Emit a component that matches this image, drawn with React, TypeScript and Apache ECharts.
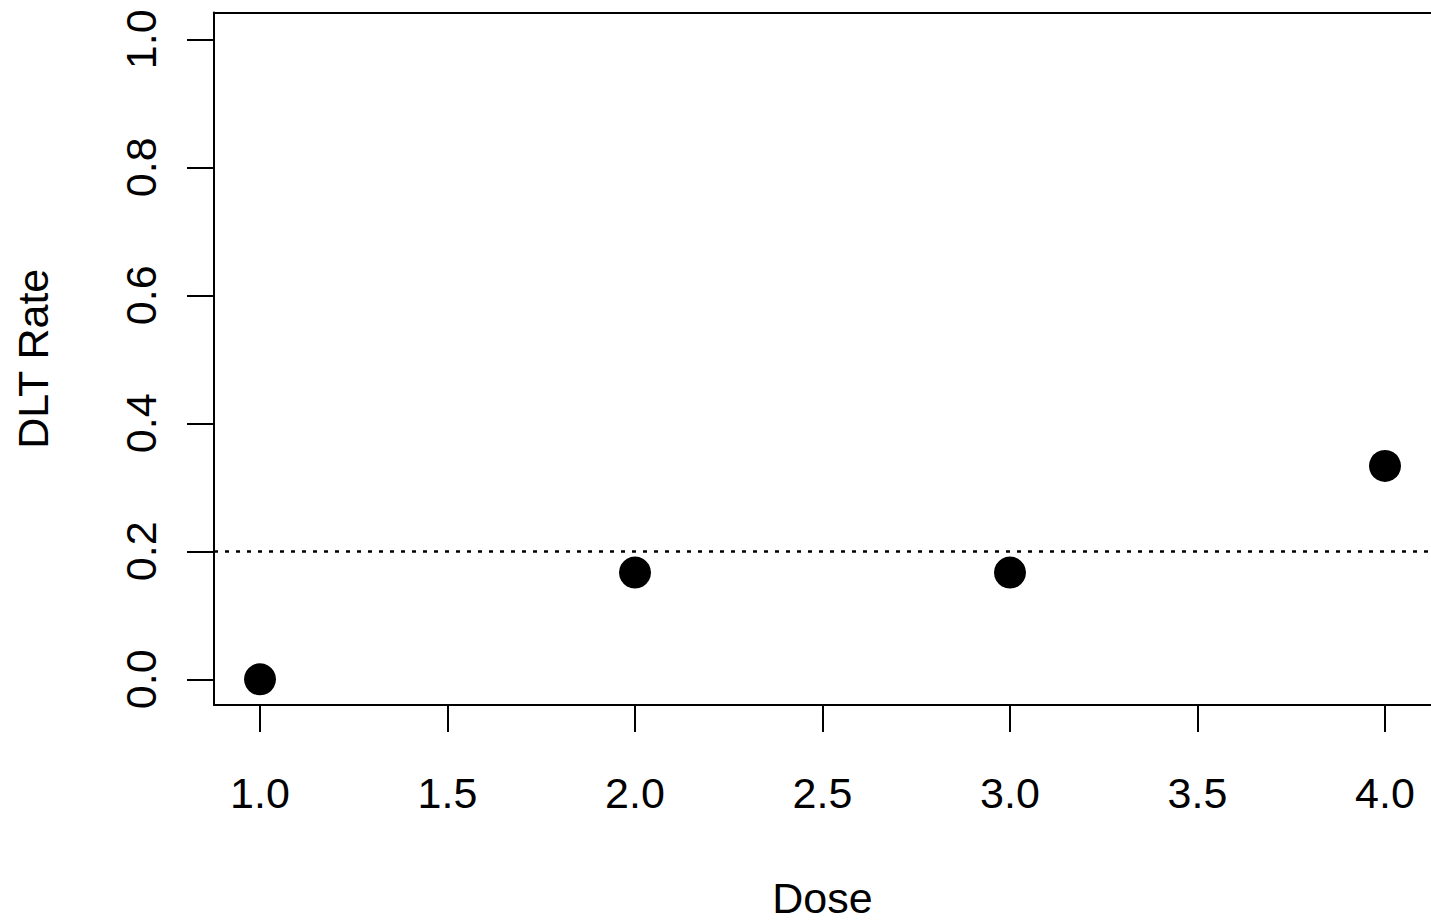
import React, { useEffect, useRef } from "react";
import * as echarts from "echarts";

const doses = [1, 2, 3, 4];
const dltRates = [0, 0.1667, 0.1667, 0.3333];
const xTicks = [1.0, 1.5, 2.0, 2.5, 3.0, 3.5, 4.0];
const yTicks = [0.0, 0.2, 0.4, 0.6, 0.8, 1.0];
const targetRate = 0.2;

const FONT = "Liberation Sans, Arial, Helvetica, sans-serif";

export default function App() {
  const ref = useRef<HTMLDivElement>(null);
  useEffect(() => {
    if (!ref.current) return;
    const chart = echarts.init(ref.current, null, { renderer: "svg" });
    const lineStyle = { color: "#000", width: 2 };
    chart.setOption({
      animation: false,
      backgroundColor: "#ffffff",
      textStyle: { fontFamily: FONT, color: "#000" },
      grid: {
        left: 214,
        right: 0,
        top: 12.5,
        bottom: 217.5,
        show: false,
        containLabel: false,
      },
      xAxis: [
        {
          type: "value",
          position: "bottom",
          min: 0.8773,
          max: 4.1227,
          name: "Dose",
          nameLocation: "middle",
          nameGap: 171,
          nameTextStyle: { fontSize: 43, color: "#000", fontFamily: FONT },
          axisLine: { show: true, onZero: false, lineStyle },
          splitLine: { show: false },
          axisTick: {
            show: true,
            inside: false,
            length: 27,
            lineStyle,
            customValues: xTicks,
          },
          axisLabel: {
            show: true,
            margin: 66,
            fontSize: 43,
            color: "#000",
            fontFamily: FONT,
            customValues: xTicks,
            formatter: (v: number) => v.toFixed(1),
          },
        },
        {
          type: "value",
          position: "top",
          min: 0.8773,
          max: 4.1227,
          axisLine: { show: true, onZero: false, lineStyle },
          axisTick: { show: false },
          axisLabel: { show: false },
          splitLine: { show: false },
        },
      ],
      yAxis: {
        type: "value",
        min: -0.0402,
        max: 1.0418,
        name: "DLT Rate",
        nameLocation: "middle",
        nameGap: 160,
        nameRotate: 90,
        nameTextStyle: { fontSize: 43, color: "#000", fontFamily: FONT },
        axisLine: { show: true, onZero: false, lineStyle },
        splitLine: { show: false },
        axisTick: {
          show: true,
          inside: false,
          length: 27,
          lineStyle,
          customValues: yTicks,
        },
        axisLabel: {
          show: true,
          rotate: 90,
          margin: 52,
          fontSize: 43,
          color: "#000",
          fontFamily: FONT,
          customValues: yTicks,
          formatter: (v: number) => v.toFixed(1),
        },
      },
      series: [
        {
          type: "scatter",
          xAxisIndex: 0,
          data: doses.map((d, i) => [d, dltRates[i]]),
          symbol: "circle",
          symbolSize: 32,
          itemStyle: { color: "#000", opacity: 1 },
          markLine: {
            silent: true,
            symbol: "none",
            label: { show: false },
            lineStyle: { color: "#000", width: 2.5, type: [4, 7] },
            data: [{ yAxis: targetRate }],
          },
        },
      ],
    });
    return () => chart.dispose();
  }, []);
  return (
    <div
      ref={ref}
      style={{ position: "absolute", left: 0, top: 0, width: 1431, height: 924 }}
    />
  );
}
